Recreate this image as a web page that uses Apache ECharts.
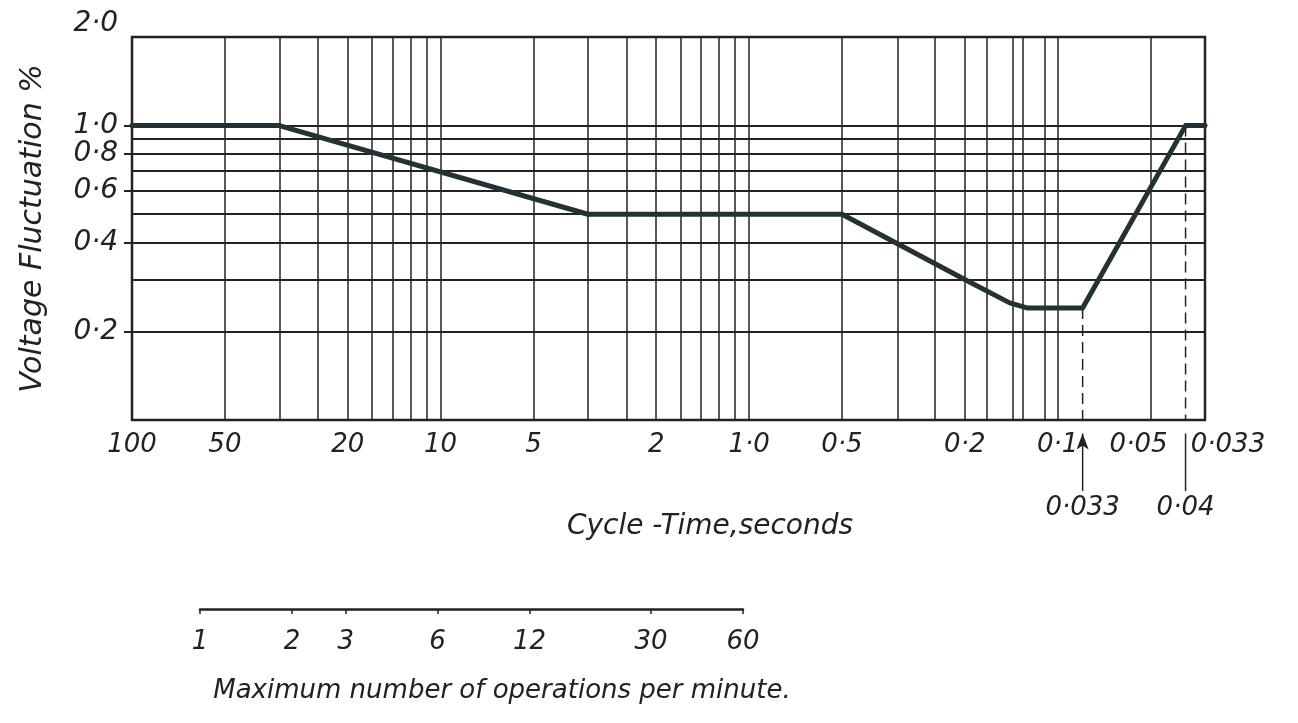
<!DOCTYPE html>
<html><head><meta charset="utf-8">
<script src="https://cdn.jsdelivr.net/npm/echarts@6/dist/echarts.min.js"></script>
<style>html,body{margin:0;padding:0;background:#fff}#c{width:1298px;height:723px}</style>
</head><body><div id="c"></div>
<script>
// ---- data ----
const curveX = [100, 33.3, 3.33, 0.5, 0.2, 0.143, 0.125, 0.083, 0.0385, 0.0333];
const curveY = [1.0, 1.0, 0.5, 0.5, 0.3, 0.25, 0.24, 0.24, 1.0, 1.0];
const xTickValues = [99.99, 50, 20, 10, 5, 2, 1, 0.5, 0.2, 0.1, 0.05, 0.03331];
const xTickLabels = ['100', '50', '20', '10', '5', '2', '1·0', '0·5', '0·2', '0·1', '0·05', '0·033'];
const xGridValues = [50, 33.3, 25, 20, 16.7, 14.3, 12.5, 11.1, 10, 5, 3.33, 2.5, 2, 1.67, 1.43, 1.25, 1.11, 1, 0.5, 0.333, 0.25, 0.2, 0.167, 0.143, 0.125, 0.111, 0.1, 0.05];
const yTickValues = [1.999, 1.0, 0.8, 0.6, 0.4, 0.2];
const yTickLabels = ['2·0', '1·0', '0·8', '0·6', '0·4', '0·2'];
const yGridValues = [0.2, 0.3, 0.4, 0.5, 0.6, 0.7, 0.8, 0.9, 1.0];
const opsValues = [1.0001, 2, 3, 6, 12, 30, 59.99];
const opsLabels = ['1', '2', '3', '6', '12', '30', '60'];
const markerX = [0.083, 0.0385];
const markerTop = [0.24, 1.0];
const markerBottom = [0.0575, 0.0575];
const markerLabels = ['0·033', '0·04'];

// ---- chart ----
const INK = '#222';
const FONT = 'DejaVu Sans';
function lookup(vals, labels) {
  return function (v) {
    let best = 0, bd = Infinity;
    vals.forEach((t, i) => { const d = Math.abs(Math.log(t) - Math.log(v)); if (d < bd) { bd = d; best = i; } });
    return labels[best];
  };
}
const xFmt = lookup(xTickValues, xTickLabels);
const yFmt = lookup(yTickValues, yTickLabels);
const opsFmt = lookup(opsValues, opsLabels);
const txt = { fontFamily: FONT, fontStyle: 'italic', color: INK };

const series = [];
series.push({
  type: 'line', xAxisIndex: 0, yAxisIndex: 0, data: [], silent: true, z: 1,
  markLine: {
    silent: true, symbol: ['none', 'none'], label: { show: false }, animation: false,
    lineStyle: { color: INK, type: 'solid', width: 1.5 },
    data: xGridValues.map(v => ({ xAxis: v, lineStyle: { color: INK, type: 'solid', width: 1.5 } }))
      .concat(yGridValues.map(v => ({ yAxis: v, lineStyle: { color: INK, type: 'solid', width: 2 } })))
  }
});
series.push({
  type: 'line', xAxisIndex: 0, yAxisIndex: 0, z: 5, symbol: 'none', silent: true,
  data: curveX.map((x, i) => [x, curveY[i]]),
  lineStyle: { color: '#243236', width: 5, join: 'round', cap: 'round' }
});
markerX.forEach((mx, i) => {
  series.push({
    type: 'line', xAxisIndex: 0, yAxisIndex: 0, z: 3, symbol: 'none', silent: true,
    data: [[mx, markerTop[i]], [mx, 0.1]],
    lineStyle: { color: INK, width: 1.5, type: [11, 6] }
  });
  series.push({
    type: 'line', xAxisIndex: 0, yAxisIndex: 0, z: 3, clip: false, silent: true,
    showSymbol: true, symbol: 'circle', symbolSize: 1,
    data: [
      { value: [mx, 0.09], symbol: i === 0 ? 'arrow' : 'none', symbolSize: [9, 16], itemStyle: { color: INK } },
      { value: [mx, markerBottom[i]], symbol: 'circle', symbolSize: 1, itemStyle: { color: INK },
        label: { show: true, position: 'bottom', distance: 4, formatter: markerLabels[i], fontSize: 26, ...txt } }
    ],
    lineStyle: { color: INK, width: 1.5 }
  });
});
series.push({ type: 'line', xAxisIndex: 1, yAxisIndex: 1, data: [], silent: true });

const option = {
  animation: false,
  backgroundColor: '#fff',
  grid: [
    { left: 132, right: 93, top: 37, bottom: 303, show: true, borderColor: INK, borderWidth: 2.5, backgroundColor: 'transparent' },
    { left: 200, right: 555, top: 608, height: 1 }
  ],
  xAxis: [
    {
      gridIndex: 0, type: 'log', logBase: 10, inverse: true, min: 0.0333, max: 100,
      axisLine: { show: false }, axisTick: { show: false }, splitLine: { show: false },
      axisLabel: {
        customValues: xTickValues, margin: 12, fontSize: 26, ...txt, hideOverlap: false,
        formatter: function (v) {
          const s = xFmt(v);
          if (s === '0·033') return '{r|' + s + '}';
          if (s === '0·05') return '{l|' + s + '}';
          return s;
        },
        rich: {
          r: { padding: [0, 0, 0, 46], fontSize: 26, ...txt },
          l: { padding: [0, 24, 0, 0], fontSize: 26, ...txt }
        }
      }
    },
    {
      gridIndex: 1, type: 'log', logBase: 10, min: 1, max: 60, position: 'bottom',
      axisLine: { show: true, onZero: false, lineStyle: { color: INK, width: 2.5 } },
      axisTick: { show: true, customValues: opsValues, length: 5, lineStyle: { color: INK, width: 1.5 } },
      splitLine: { show: false },
      axisLabel: { customValues: opsValues, margin: 20, fontSize: 26, ...txt, formatter: v => opsFmt(v) }
    }
  ],
  yAxis: [
    {
      gridIndex: 0, type: 'log', logBase: 10, min: 0.1, max: 2.0,
      axisLine: { show: false }, splitLine: { show: false },
      axisTick: { show: true, customValues: [1.0, 0.8, 0.6, 0.4, 0.2], length: 8, lineStyle: { color: INK, width: 2 } },
      axisLabel: {
        customValues: yTickValues, margin: 14, fontSize: 28, ...txt, hideOverlap: false,
        formatter: function (v) { const s = yFmt(v); return s === '2·0' ? '{t|' + s + '}' : s; },
        rich: { t: { padding: [0, 0, 26, 0], fontSize: 28, ...txt } }
      },
      name: 'Voltage Fluctuation %', nameLocation: 'middle', nameRotate: 90, nameGap: 84,
      nameTextStyle: { fontSize: 30, ...txt }
    },
    { gridIndex: 1, type: 'value', show: false, min: 0, max: 1 }
  ],
  graphic: [
    { type: 'text', x: 710, y: 527, style: { text: 'Cycle -Time,seconds', font: 'italic 28px "DejaVu Sans"', fill: INK, align: 'center', verticalAlign: 'middle' } },
    { type: 'text', x: 502, y: 691, style: { text: 'Maximum number of operations per minute.', font: 'italic 26px "DejaVu Sans"', fill: INK, align: 'center', verticalAlign: 'middle' } }
  ],
  series: series
};
const chart = echarts.init(document.getElementById('c'));
chart.setOption(option);
</script>
</body></html>
